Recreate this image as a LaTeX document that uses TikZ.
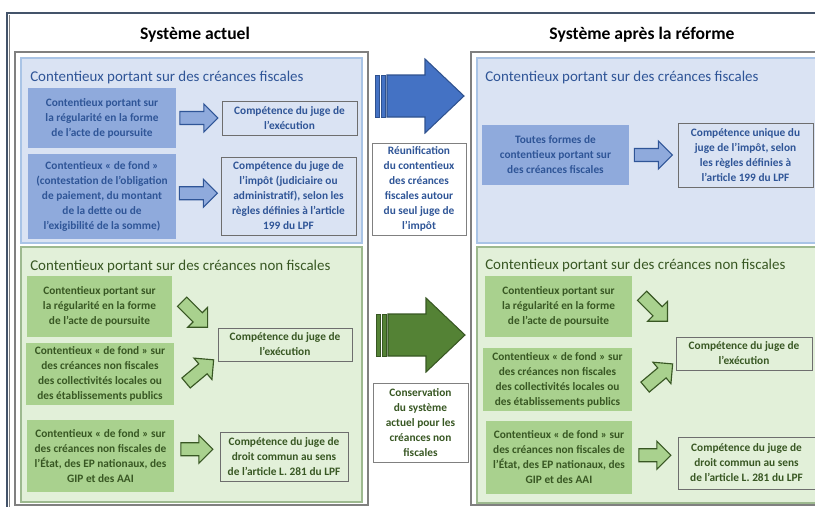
\documentclass[tikz,border=0pt]{standalone}
\usepackage{fontspec}
\setmainfont{Carlito}
\usetikzlibrary{calc}
\definecolor{bleufonce}{HTML}{2F5597}
\definecolor{bleumoyen}{HTML}{8FAADC}
\definecolor{fondbleu}{HTML}{DAE3F3}
\definecolor{bordbleu}{HTML}{A9C4E6}
\definecolor{vertfonce}{HTML}{385723}
\definecolor{vertmoyen}{HTML}{A9D18E}
\definecolor{fondvert}{HTML}{E2F0D9}
\definecolor{bordvert}{HTML}{9DB98F}
\definecolor{grisjuge}{HTML}{6E6E6E}
\definecolor{griscadre}{HTML}{808080}
\definecolor{ardoise}{HTML}{44546A}
\definecolor{grosbleu}{HTML}{4472C4}
\definecolor{grosbleubord}{HTML}{2F528F}
\definecolor{grosvert}{HTML}{548235}
\begin{document}
\begin{tikzpicture}[x=0.75pt,y=-0.75pt,
  every node/.style={font=\fontsize{8.5}{11.25}\selectfont\bfseries,align=center,inner sep=0pt},
  taille/.style 2 args={minimum width=#1*0.75pt,minimum height=#2*0.75pt},
  titre/.style={font=\fontsize{13.2}{15}\selectfont\bfseries},
  soustitre/.style={font=\fontsize{11.2}{13}\selectfont,anchor=west},
  srcbleu/.style={fill=bleumoyen,text=bleufonce},
  srcvert/.style={fill=vertmoyen,text=vertfonce},
  jugebleu/.style={draw=grisjuge,line width=0.7pt,text=bleufonce},
  jugevert/.style={draw=grisjuge,line width=0.7pt,text=vertfonce},
  milieu/.style={draw=griscadre,fill=white,line width=0.7pt},
  flbleue/.style={fill=bleumoyen,draw=bleufonce,line width=0.85pt},
  flverte/.style={fill=vertmoyen,draw=vertfonce,line width=0.85pt},
  pics/fleche/.style={code={
    \draw[pic actions,line join=miter]
      ({-#1/2},-6.5) -- ({#1/2-14},-6.5) -- ({#1/2-14},-14) -- ({#1/2},0)
      -- ({#1/2-14},14) -- ({#1/2-14},6.5) -- ({-#1/2},6.5) -- cycle;}},
  pics/grandefleche/.style={code={
    \draw[pic actions,line width=0.4pt] (0,-21) rectangle (4,21);
    \draw[pic actions,line width=0.4pt] (6,-21) rectangle (10,21);
    \draw[pic actions,line join=miter] (12,-21) -- (50,-21) -- (50,-37) -- (89,0)
      -- (50,37) -- (50,21) -- (12,21) -- cycle;}}]
\useasboundingbox (0,0) rectangle (815,507);
\clip (0,0) rectangle (815,507);

% cadre general et panneaux
\draw[ardoise,line width=1pt] (7,510) -- (7,13) -- (820,13);
\draw[griscadre,line width=0.6pt] (9.5,510) -- (9.5,14.5);
\draw[griscadre,line width=0.8pt] (15,52) rectangle (368,505);
\draw[griscadre,line width=0.8pt] (471,52) rectangle (830,505);
\node[titre] (tg) at (195,35) {Système actuel};
\node[titre] (td) at (642,35) {Système après la réforme};

% zones
\draw[bordbleu,fill=fondbleu,line width=0.8pt] (21,58) rectangle (362,243);
\draw[bordvert,fill=fondvert,line width=0.8pt] (21,247) rectangle (362,502);
\draw[bordbleu,fill=fondbleu,line width=0.8pt] (477,58) rectangle (830,243);
\draw[bordvert,fill=fondvert,line width=0.8pt] (477,247) rectangle (830,503);
\node[soustitre,text=bleufonce] (fg) at (30,78) {Contentieux portant sur des créances fiscales};
\node[soustitre,text=vertfonce] (nfg) at (30,267) {Contentieux portant sur des créances non fiscales};
\node[soustitre,text=bleufonce] (fd) at (485,78) {Contentieux portant sur des créances fiscales};
\node[soustitre,text=vertfonce] (nfd) at (485,266) {Contentieux portant sur des créances non fiscales};

% systeme actuel, creances fiscales
\node[srcbleu,taille={148}{60}] (a1) at (102,118) {Contentieux portant sur\\la régularité en la forme\\de l’acte de poursuite};
\node[jugebleu,taille={135}{34}] (b1) at (289.5,118) {Compétence du juge de\\l’exécution};
\node[srcbleu,taille={148}{85}] (a2) at (102,196.5) {Contentieux «~de fond~»\\(contestation de l’obligation\\de paiement, du montant\\de la dette ou de\\l’exigibilité de la somme)};
\node[jugebleu,taille={135}{78}] (b2) at (288.5,196) {Compétence du juge de\\l’impôt (judiciaire ou\\administratif), selon les\\règles définies à l’article\\199 du LPF};
\pic[flbleue] at ($(a1.east)!.5!(b1.west)$) {fleche=38};
\pic[flbleue] at ($(a2.east)!.5!(b2.west)+(0,-3)$) {fleche=38};

% systeme actuel, creances non fiscales
\node[srcvert,taille={145}{61}] (g1) at (99.5,306.5) {Contentieux portant sur\\la régularité en la forme\\de l’acte de poursuite};
\node[srcvert,taille={148}{62}] (g2) at (100,374) {Contentieux «~de fond~» sur\\des créances non fiscales\\des collectivités locales ou\\des établissements publics};
\node[srcvert,taille={147}{72}] (g3) at (100.5,456) {Contentieux «~de fond~» sur\\des créances non fiscales de\\l’État, des EP nationaux, des\\GIP et des AAI};
\node[jugevert,taille={134}{33}] (h1) at (285,344.5) {Compétence du juge de\\l’exécution};
\node[jugevert,taille={128}{49}] (h2) at (284,456.5) {Compétence du juge de\\droit commun au sens\\de l’article L. 281 du LPF};
\pic[flverte,rotate=-45] at ($(g1.east)+(22.6,8)$) {fleche=36};
\pic[flverte,rotate=40] at ($(g2.east)+(25.6,-2.6)$) {fleche=36};
\pic[flverte] at ($(g3.east)!.5!(h2.west)+(0,-7)$) {fleche=32};

% passage d'un systeme a l'autre
\pic[fill=grosbleu,draw=grosbleubord,line width=0.8pt] at (375,96) {grandefleche};
\node[milieu,text=bleufonce,taille={94}{92}] (reunif) at (419,189) {Réunification\\du contentieux\\des créances\\fiscales autour\\du seul juge de\\l’impôt};
\pic[fill=grosvert,draw=vertfonce,line width=0.8pt] at (376,335) {grandefleche};
\node[milieu,text=vertfonce,taille={95}{79}] (conserv) at (420.5,422.5) {Conservation\\du système\\actuel pour les\\créances non\\fiscales};

% systeme apres la reforme, creances fiscales
\node[srcbleu,taille={147}{60}] (t1) at (555.5,155) {Toutes formes de\\contentieux portant sur\\des créances fiscales};
\node[jugebleu,taille={135}{64}] (u1) at (745.5,155) {Compétence unique du\\juge de l’impôt, selon\\les règles définies à\\l’article 199 du LPF};
\pic[flbleue] at ($(t1.east)!.5!(u1.west)$) {fleche=38};

% systeme apres la reforme, creances non fiscales
\node[srcvert,taille={147}{61}] (k1) at (558.5,306.5) {Contentieux portant sur\\la régularité en la forme\\de l’acte de poursuite};
\node[srcvert,taille={149}{63}] (k2) at (557.5,379.5) {Contentieux «~de fond~» sur\\des créances non fiscales\\des collectivités locales ou\\des établissements publics};
\node[srcvert,taille={146}{73}] (k3) at (559,457.5) {Contentieux «~de fond~» sur\\des créances non fiscales de\\l’État, des EP nationaux, des\\GIP et des AAI};
\node[jugevert,taille={136}{33}] (m1) at (744,353.5) {Compétence du juge de\\l’exécution};
\node[jugevert,taille={137}{52}] (m2) at (746.5,463) {Compétence du juge de\\droit commun au sens\\de l’article L. 281 du LPF};
\pic[flverte,rotate=-45] at ($(k1.east)+(22.5,2)$) {fleche=36};
\pic[flverte,rotate=40] at ($(k2.east)+(26.6,-4)$) {fleche=36};
\pic[flverte] at ($(k3.east)!.5!(m2.west)+(0,-5)$) {fleche=32};
\end{tikzpicture}
\end{document}
